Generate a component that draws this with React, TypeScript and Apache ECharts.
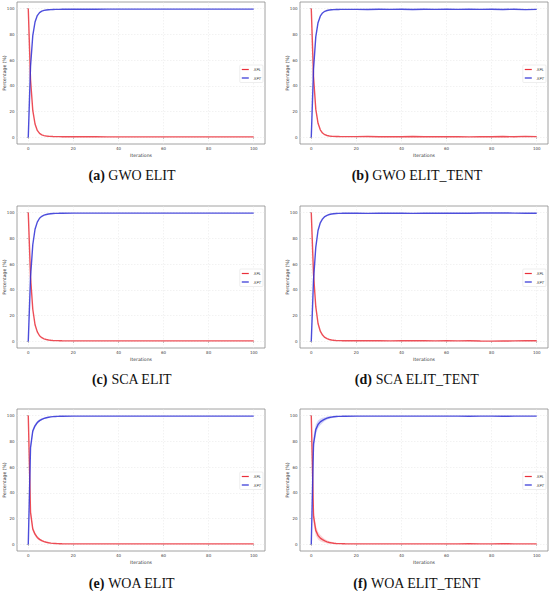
import React, { useEffect, useRef } from "react";
import * as echarts from "echarts";

// Iterations sampled from the curves
const ITER = [0, 1, 2, 3, 4, 5, 6, 7, 8, 9, 10, 11, 12, 13, 14, 15, 20, 25, 30, 35, 40, 45, 50, 55, 60, 65, 70, 75, 80, 85, 90, 95, 100];
const X_TICKS = [0, 20, 40, 60, 80, 100];
const Y_TICKS = [0, 20, 40, 60, 80, 100];

const GWO_ELIT_XPL = [100, 45, 21, 10.5, 5.5, 3.2, 2.1, 1.5, 1.2, 1.0, 0.9, 0.8, 0.75, 0.7, 0.7, 0.65, 0.6, 0.6, 0.6, 0.55, 0.55, 0.55, 0.5, 0.5, 0.5, 0.5, 0.5, 0.5, 0.5, 0.5, 0.5, 0.5, 0.5];
const GWO_ELIT_XPT = [0, 55, 79, 89.5, 94.5, 96.8, 97.9, 98.5, 98.8, 99.0, 99.1, 99.2, 99.25, 99.3, 99.3, 99.35, 99.4, 99.4, 99.4, 99.45, 99.45, 99.45, 99.5, 99.5, 99.5, 99.5, 99.5, 99.5, 99.5, 99.5, 99.5, 99.5, 99.5];

const GWO_TENT_XPL = [100, 47, 22, 11, 6, 3.5, 2.2, 1.6, 1.2, 1.0, 0.9, 0.85, 0.8, 0.75, 0.7, 0.7, 0.7, 0.8, 0.6, 0.7, 0.6, 0.8, 0.6, 0.7, 0.6, 0.7, 0.5, 0.7, 0.6, 0.8, 0.6, 0.9, 0.7];
const GWO_TENT_XPT = [0, 53, 78, 89, 94, 96.5, 97.8, 98.4, 98.8, 99.0, 99.1, 99.15, 99.2, 99.25, 99.3, 99.3, 99.3, 99.2, 99.4, 99.3, 99.4, 99.2, 99.4, 99.3, 99.4, 99.3, 99.5, 99.3, 99.4, 99.2, 99.4, 99.1, 99.3];

const SCA_ELIT_XPL = [100, 50, 25, 13, 7.5, 4.5, 3, 2.1, 1.6, 1.2, 1.0, 0.85, 0.75, 0.7, 0.65, 0.6, 0.55, 0.55, 0.5, 0.5, 0.5, 0.5, 0.5, 0.5, 0.5, 0.5, 0.5, 0.5, 0.5, 0.5, 0.5, 0.5, 0.5];
const SCA_ELIT_XPT = [0, 50, 75, 87, 92.5, 95.5, 97, 97.9, 98.4, 98.8, 99.0, 99.15, 99.25, 99.3, 99.35, 99.4, 99.45, 99.45, 99.5, 99.5, 99.5, 99.5, 99.5, 99.5, 99.5, 99.5, 99.5, 99.5, 99.5, 99.5, 99.5, 99.5, 99.5];

const SCA_TENT_XPL = [100, 52, 27, 14, 8, 5, 3.2, 2.2, 1.6, 1.2, 1.0, 0.85, 0.75, 0.7, 0.65, 0.6, 0.6, 0.7, 0.6, 0.5, 0.6, 0.7, 0.6, 0.5, 0.6, 0.5, 0.6, 0.4, 0.3, 0.4, 0.5, 0.6, 0.6];
const SCA_TENT_XPT = [0, 48, 73, 86, 92, 95, 96.8, 97.8, 98.4, 98.8, 99.0, 99.15, 99.25, 99.3, 99.35, 99.4, 99.4, 99.3, 99.4, 99.5, 99.4, 99.3, 99.4, 99.5, 99.4, 99.5, 99.4, 99.6, 99.7, 99.6, 99.5, 99.4, 99.4];

const WOA_ELIT_XPL = [100, 25, 12, 8, 5.5, 4, 3, 2.3, 1.8, 1.4, 1.1, 0.9, 0.8, 0.7, 0.65, 0.6, 0.5, 0.5, 0.5, 0.5, 0.5, 0.5, 0.5, 0.5, 0.5, 0.5, 0.5, 0.5, 0.5, 0.5, 0.5, 0.5, 0.5];
const WOA_ELIT_XPT = [0, 75, 88, 92, 94.5, 96, 97, 97.7, 98.2, 98.6, 98.9, 99.1, 99.2, 99.3, 99.35, 99.4, 99.5, 99.5, 99.5, 99.5, 99.5, 99.5, 99.5, 99.5, 99.5, 99.5, 99.5, 99.5, 99.5, 99.5, 99.5, 99.5, 99.5];
const WOA_ELIT_BAND = [0, 3, 2, 1.5, 1.2, 1, 0.8, 0.6, 0.5, 0.4, 0.3, 0.2, 0.2, 0.15, 0.1, 0.1, 0, 0, 0, 0, 0, 0, 0, 0, 0, 0, 0, 0, 0, 0, 0, 0, 0];

const WOA_TENT_XPL = [100, 22, 11, 7, 5, 3.8, 2.8, 2.1, 1.6, 1.3, 1.0, 0.85, 0.75, 0.7, 0.65, 0.6, 0.55, 0.5, 0.5, 0.55, 0.5, 0.5, 0.55, 0.5, 0.5, 0.55, 0.6, 0.55, 0.5, 0.6, 0.55, 0.5, 0.55];
const WOA_TENT_XPT = [0, 78, 89, 93, 95, 96.2, 97.2, 97.9, 98.4, 98.7, 99.0, 99.15, 99.25, 99.3, 99.35, 99.4, 99.45, 99.5, 99.5, 99.45, 99.5, 99.5, 99.45, 99.5, 99.5, 99.45, 99.4, 99.45, 99.5, 99.4, 99.45, 99.5, 99.45];
const WOA_TENT_BAND = [0, 6, 4, 3, 2.5, 2, 1.5, 1.2, 1, 0.8, 0.6, 0.5, 0.4, 0.3, 0.25, 0.2, 0.1, 0, 0, 0, 0, 0, 0, 0, 0, 0, 0, 0, 0, 0, 0, 0, 0];

const PANELS = [
  { tag: "(a)", title: "GWO ELIT", xpl: GWO_ELIT_XPL, xpt: GWO_ELIT_XPT, band: null as number[] | null },
  { tag: "(b)", title: "GWO ELIT_TENT", xpl: GWO_TENT_XPL, xpt: GWO_TENT_XPT, band: null as number[] | null },
  { tag: "(c)", title: "SCA ELIT", xpl: SCA_ELIT_XPL, xpt: SCA_ELIT_XPT, band: null as number[] | null },
  { tag: "(d)", title: "SCA ELIT_TENT", xpl: SCA_TENT_XPL, xpt: SCA_TENT_XPT, band: null as number[] | null },
  { tag: "(e)", title: "WOA ELIT", xpl: WOA_ELIT_XPL, xpt: WOA_ELIT_XPT, band: WOA_ELIT_BAND },
  { tag: "(f)", title: "WOA ELIT_TENT", xpl: WOA_TENT_XPL, xpt: WOA_TENT_XPT, band: WOA_TENT_BAND },
];

const COL_LEFT = [17, 300];
const ROW_TOP = [2, 206, 409];
const FRAME_W = 248;
const FRAME_H = 142;
const CAP_X = [132, 417];
const CAP_Y = [175, 379, 583];

const RED = "#ea2f3a";
const BLUE = "#2e2fd6";
const FONT = "DejaVu Sans";

export default function App() {
  const ref = useRef<HTMLDivElement>(null);
  useEffect(() => {
    document.body.style.margin = "0";
    if (!ref.current) return;
    const chart = echarts.init(ref.current, undefined, { renderer: "svg" });

    const grid: any[] = [];
    const xAxis: any[] = [];
    const yAxis: any[] = [];
    const legend: any[] = [];
    const series: any[] = [];
    const graphic: any[] = [];

    PANELS.forEach((p, i) => {
      const col = i % 2;
      const row = Math.floor(i / 2);
      grid.push({
        left: COL_LEFT[col],
        top: ROW_TOP[row],
        width: FRAME_W,
        height: FRAME_H,
        show: true,
        borderColor: "#8c8c8c",
        borderWidth: 0.8,
        backgroundColor: "#fff",
        containLabel: false,
        outerBoundsMode: "none",
      });
      xAxis.push({
        type: "value",
        gridIndex: i,
        min: -5,
        max: 105,
        name: "Iterations",
        nameLocation: "middle",
        nameGap: 8.5,
        nameMoveOverlap: false,
        nameTextStyle: { fontSize: 4.6, fontFamily: FONT, color: "#333" },
        axisLine: { show: false },
        axisTick: { show: true, length: 1.5, lineStyle: { color: "#8c8c8c", width: 0.5 }, customValues: X_TICKS },
        axisLabel: { fontSize: 4, fontFamily: FONT, color: "#444", margin: 2.5, customValues: X_TICKS },
        splitLine: { show: true, lineStyle: { color: "#e4e4e4", width: 0.5, type: [1.5, 1.5] } },
      });
      yAxis.push({
        type: "value",
        gridIndex: i,
        min: -5,
        max: 105,
        name: "Percentage (%)",
        nameLocation: "middle",
        nameGap: 10,
        nameMoveOverlap: false,
        nameTextStyle: { fontSize: 4.6, fontFamily: FONT, color: "#333" },
        axisLine: { show: false },
        axisTick: { show: true, length: 1.5, lineStyle: { color: "#8c8c8c", width: 0.5 }, customValues: Y_TICKS },
        axisLabel: { fontSize: 4, fontFamily: FONT, color: "#444", margin: 2.5, customValues: Y_TICKS },
        splitLine: { show: true, lineStyle: { color: "#e4e4e4", width: 0.5, type: [1.5, 1.5] } },
      });
      legend.push({
        orient: "vertical",
        right: 550 - (COL_LEFT[col] + FRAME_W) + 2,
        top: ROW_TOP[row] + FRAME_H / 2 - 8,
        icon: "rect",
        itemWidth: 7,
        itemHeight: 1.2,
        itemGap: 3.5,
        itemTextGap: 3,
        padding: [2, 2, 2, 2],
        borderColor: "#dddddd",
        borderWidth: 0.5,
        borderRadius: 1,
        backgroundColor: "#ffffff",
        selectedMode: false,
        textStyle: { fontSize: 3.8, fontStyle: "italic", fontFamily: FONT, color: "#333", lineHeight: 5 },
        data: ["XPL", "XPT"],
      });
      if (p.band) {
        const b = p.band;
        const addBand = (vals: number[], color: string) => {
          const lo = ITER.map((x, k) => [x, vals[k] - b[k]]);
          const hi = ITER.map((x, k) => [x, vals[k] + b[k]]);
          series.push({
            type: "custom",
            xAxisIndex: i,
            yAxisIndex: i,
            silent: true,
            clip: true,
            data: [[ITER[0], vals[0]]],
            renderItem: (_params: any, api: any) => {
              const pts = lo.map((d) => api.coord(d)).concat(hi.slice().reverse().map((d) => api.coord(d)));
              return { type: "polygon", shape: { points: pts }, style: { fill: color, stroke: "none" } };
            },
          });
        };
        addBand(p.xpl, "rgba(234,47,58,0.2)");
        addBand(p.xpt, "rgba(46,47,214,0.2)");
      }
      series.push({
        type: "line",
        name: "XPL",
        xAxisIndex: i,
        yAxisIndex: i,
        symbol: "none",
        color: RED,
        lineStyle: { color: RED, width: 1.4, opacity: 0.85 },
        data: ITER.map((x, k) => [x, p.xpl[k]]),
      });
      series.push({
        type: "line",
        name: "XPT",
        xAxisIndex: i,
        yAxisIndex: i,
        symbol: "none",
        color: BLUE,
        lineStyle: { color: BLUE, width: 1.4, opacity: 0.85 },
        data: ITER.map((x, k) => [x, p.xpt[k]]),
      });
      graphic.push({
        type: "text",
        x: CAP_X[col],
        y: CAP_Y[row],
        style: {
          text: "{b|" + p.tag + "}{n| " + p.title + "}",
          align: "center",
          verticalAlign: "middle",
          fontFamily: "Liberation Serif",
          fontSize: 14,
          fill: "#111",
          rich: {
            b: { fontFamily: "Liberation Serif", fontSize: 14, fontWeight: "bold", fill: "#111" },
            n: { fontFamily: "Liberation Serif", fontSize: 14, fontWeight: "normal", fill: "#111" },
          },
        },
      });
    });

    chart.setOption({
      animation: false,
      backgroundColor: "#fff",
      grid,
      xAxis,
      yAxis,
      legend,
      series,
      graphic,
    });
    return () => chart.dispose();
  }, []);
  return <div ref={ref} style={{ width: 550, height: 591 }} />;
}
